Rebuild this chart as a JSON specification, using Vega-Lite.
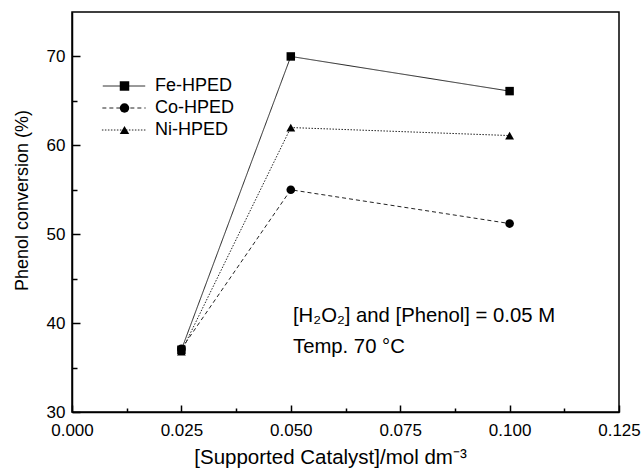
{
  "$schema": "https://vega.github.io/schema/vega-lite/v6.json",
  "width": 547,
  "height": 400,
  "autosize": "none",
  "padding": {"left": 72, "top": 12, "right": 23, "bottom": 57},
  "background": "white",
  "config": {
    "font": "Liberation Sans",
    "view": {"stroke": "black", "strokeWidth": 1.5},
    "axis": {
      "grid": false,
      "domainColor": "black",
      "domainWidth": 1.5,
      "tickColor": "black",
      "tickWidth": 1.5,
      "labelColor": "black",
      "titleColor": "black",
      "labelFont": "Liberation Sans",
      "titleFont": "Liberation Sans",
      "titleFontWeight": "normal",
      "labelFontSize": 17
    },
    "legend": {"labelFont": "Liberation Sans", "labelColor": "black", "padding": 0}
  },
  "datasets": {
    "points": [
      {"series": "Fe-HPED", "conc": 0.025, "conversion": 37.0},
      {"series": "Fe-HPED", "conc": 0.05, "conversion": 70.0},
      {"series": "Fe-HPED", "conc": 0.1, "conversion": 66.1},
      {"series": "Co-HPED", "conc": 0.025, "conversion": 37.1},
      {"series": "Co-HPED", "conc": 0.05, "conversion": 55.0},
      {"series": "Co-HPED", "conc": 0.1, "conversion": 51.2},
      {"series": "Ni-HPED", "conc": 0.025, "conversion": 36.8},
      {"series": "Ni-HPED", "conc": 0.05, "conversion": 62.0},
      {"series": "Ni-HPED", "conc": 0.1, "conversion": 61.1}
    ],
    "note1": [{"note": "[H₂O₂] and [Phenol] = 0.05 M"}],
    "note2": [{"note": "Temp. 70 °C"}]
  },
  "layer": [
    {
      "data": {"name": "points"},
      "mark": {"type": "line", "color": "#222", "strokeWidth": 1},
      "encoding": {
        "x": {
          "field": "conc",
          "type": "quantitative",
          "scale": {"domain": [0, 0.125], "nice": false, "zero": false},
          "axis": {
            "title": "[Supported Catalyst]/mol dm⁻³",
            "titleFontSize": 20.5,
            "titlePadding": 6,
            "titleX": 258,
            "values": [0, 0.0125, 0.025, 0.0375, 0.05, 0.0625, 0.075, 0.0875, 0.1, 0.1125, 0.125],
            "labelExpr": "abs(round(datum.value / 0.025) * 0.025 - datum.value) < 0.000001 ? format(datum.value, '.3f') : ''",
            "tickSize": {"condition": {"test": "abs(round(datum.value / 0.025) * 0.025 - datum.value) < 0.000001", "value": -7}, "value": -4},
            "labelPadding": 17,
            "labelFlush": false,
            "labelOverlap": false
          }
        },
        "y": {
          "field": "conversion",
          "type": "quantitative",
          "scale": {"domain": [30, 75], "nice": false, "zero": false},
          "axis": {
            "title": "Phenol conversion (%)",
            "titleFontSize": 18,
            "titlePadding": 15,
            "titleY": 188,
            "values": [30, 35, 40, 45, 50, 55, 60, 65, 70],
            "labelExpr": "datum.value % 10 == 0 ? datum.label : ''",
            "tickSize": {"condition": {"test": "datum.value % 10 == 0", "value": -8}, "value": -5},
            "labelPadding": 15,
            "labelFlush": false,
            "labelOverlap": false
          }
        },
        "detail": {"field": "series", "type": "nominal"},
        "strokeDash": {
          "field": "series",
          "type": "nominal",
          "scale": {"domain": ["Fe-HPED", "Co-HPED", "Ni-HPED"], "range": [[1, 0], [4, 3], [1.5, 1.5]]},
          "legend": {
            "title": null,
            "orient": "none",
            "legendX": 43,
            "legendY": 65,
            "padding": 0,
            "symbolType": "M-5,0L5,0",
            "symbolSize": 100,
            "symbolStrokeColor": "#222",
            "symbolStrokeWidth": 1,
            "labelFontSize": 18,
            "labelOffset": 22,
            "rowPadding": 4
          }
        }
      }
    },
    {
      "data": {"name": "points"},
      "mark": {"type": "point", "filled": true, "color": "black", "opacity": 1},
      "encoding": {
        "x": {"field": "conc", "type": "quantitative"},
        "y": {"field": "conversion", "type": "quantitative"},
        "size": {
          "field": "series",
          "type": "nominal",
          "scale": {"domain": ["Fe-HPED", "Co-HPED", "Ni-HPED"], "range": [72, 78, 160]},
          "legend": null
        },
        "shape": {
          "field": "series",
          "type": "nominal",
          "sort": ["Fe-HPED", "Co-HPED", "Ni-HPED"],
          "scale": {"range": ["square", "circle", "triangle-up"]},
          "legend": {
            "title": null,
            "orient": "none",
            "legendX": 43.5,
            "legendY": 65,
            "padding": 0,
            "symbolSize": 90,
            "symbolFillColor": "black",
            "symbolStrokeColor": "black",
            "symbolOpacity": 1,
            "labelFontSize": 18,
            "labelExpr": "' '",
            "rowPadding": 4
          }
        }
      }
    },
    {
      "data": {"name": "note1"},
      "mark": {"type": "text", "align": "left", "baseline": "alphabetic", "fontSize": 20.3, "color": "black"},
      "encoding": {"x": {"datum": 0.0505, "type": "quantitative"}, "y": {"datum": 40.1, "type": "quantitative"}, "text": {"field": "note", "type": "nominal"}}
    },
    {
      "data": {"name": "note2"},
      "mark": {"type": "text", "align": "left", "baseline": "alphabetic", "fontSize": 20.3, "color": "black"},
      "encoding": {"x": {"datum": 0.0505, "type": "quantitative"}, "y": {"datum": 36.6, "type": "quantitative"}, "text": {"field": "note", "type": "nominal"}}
    }
  ]
}
